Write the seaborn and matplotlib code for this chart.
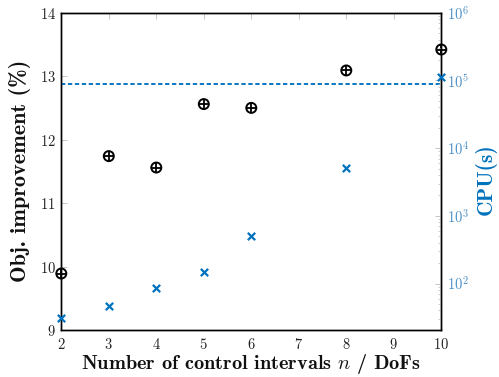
import matplotlib
matplotlib.use("Agg")
import matplotlib.pyplot as plt
import seaborn as sns
import numpy as np
import pandas as pd
from matplotlib.ticker import LogLocator, NullFormatter

sns.set_theme(style="white")
plt.rcParams['font.family'] = ['cmr10', 'DejaVu Serif']
plt.rcParams['mathtext.fontset'] = 'cm'
plt.rcParams['axes.formatter.use_mathtext'] = True
plt.rcParams['axes.unicode_minus'] = False

intervals = [2, 3, 4, 5, 6, 8, 10]
obj_improvement = [9.89, 11.74, 11.56, 12.56, 12.50, 13.09, 13.42]
cpu_seconds = [30.6, 47, 85, 146, 508, 5070, 112000]
reference_obj = 12.87

blue = '#0072BD'
light_blue = '#4a90c8'

df = pd.DataFrame({'n': intervals, 'obj': obj_improvement, 'cpu': cpu_seconds})

fig = plt.figure(figsize=(4.99, 3.77), dpi=100)
ax = fig.add_axes([61.3/499, 1 - 330/377, (441.3-61.3)/499, (330-12.7)/377])
ax2 = ax.twinx()

sns.scatterplot(data=df, x='n', y='obj', ax=ax, marker='o', s=52,
                facecolor='none', edgecolor='black', linewidth=1.4,
                clip_on=False, zorder=5)
sns.scatterplot(data=df, x='n', y='obj', ax=ax, marker='+', s=50,
                color='black', linewidth=1.3, clip_on=False, zorder=6)
ax.axhline(reference_obj, color=blue, linestyle=(0, (2.3, 1.4)), linewidth=1.35, zorder=3)
sns.scatterplot(data=df, x='n', y='cpu', ax=ax2, marker='x', s=28,
                color=blue, linewidth=1.6, clip_on=False, zorder=5)

ax.set_xlim(2, 10)
ax.set_ylim(9, 14)
ax.set_xticks([2, 3, 4, 5, 6, 7, 8, 9, 10])
ax.set_yticks([9, 10, 11, 12, 13, 14])
ax2.set_yscale('log')
ax2.set_ylim(20.6, 1e6)
ax2.yaxis.set_major_locator(LogLocator(base=10, numticks=10))
ax2.yaxis.set_minor_locator(LogLocator(base=10, subs=np.arange(2, 10), numticks=20))
ax2.yaxis.set_minor_formatter(NullFormatter())

for a in (ax, ax2):
    for sp in a.spines.values():
        sp.set_color('black')
        sp.set_linewidth(1.0)

ax.tick_params(axis='both', direction='in', length=4, width=0.6, color='#bbbbbb',
               labelsize=10.5, labelcolor='#222222', pad=4, top=True)
ax.tick_params(axis='x', pad=5)
ax2.tick_params(axis='y', which='major', direction='in', length=4, width=0.6,
                color='#bbbbbb', labelsize=10.5, labelcolor=light_blue, pad=4)
ax2.tick_params(axis='y', which='minor', direction='in', length=2.5, width=0.5,
                color='#bbbbbb', right=True)

ax.set_xlabel('Number of control intervals $n$ / DoFs', fontsize=14.6,
              family=['cmb10', 'DejaVu Serif'], labelpad=0, color='#111111')
ax.set_ylabel('Obj. improvement (%)', fontsize=16,
              family=['cmb10', 'DejaVu Serif'], labelpad=6, color='#111111')
ax2.set_ylabel('CPU(s)', fontsize=15.4, family=['cmb10', 'DejaVu Serif'],
               color=blue)
ax2.yaxis.set_label_coords(1.088, 0.475)

fig.savefig('out.png', dpi=100)
